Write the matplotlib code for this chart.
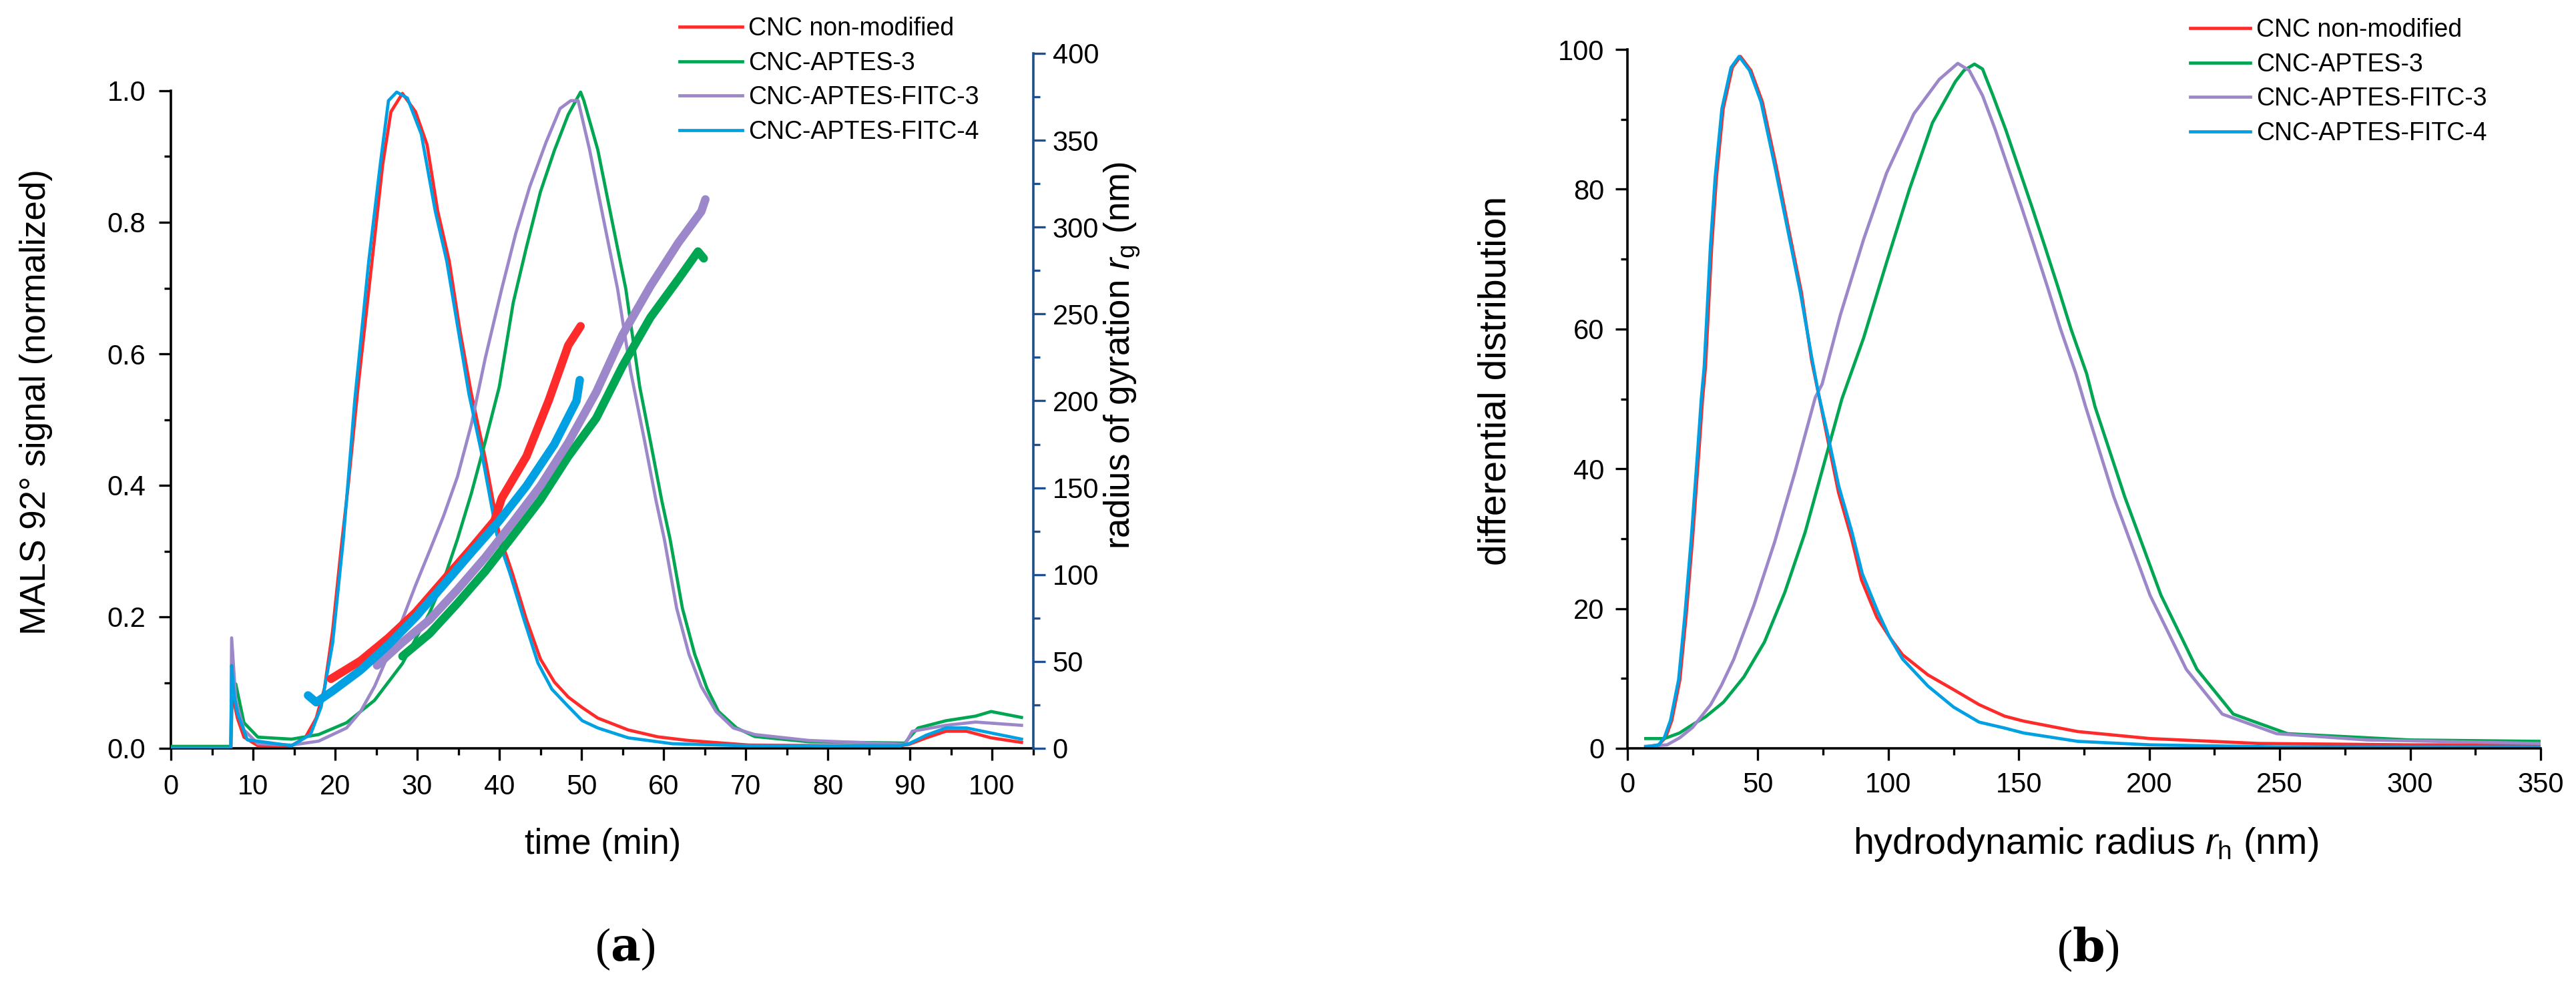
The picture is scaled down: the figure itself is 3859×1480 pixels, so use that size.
import numpy as np
import matplotlib.pyplot as plt
from matplotlib.ticker import MultipleLocator, FormatStrFormatter

plt.rcParams['font.family'] = ['Liberation Sans', 'DejaVu Sans']
plt.rcParams['mathtext.fontset'] = 'custom'
plt.rcParams['mathtext.rm'] = 'Liberation Sans'
plt.rcParams['mathtext.it'] = 'Liberation Sans:italic'

W, H = 3859, 1480

def fx(px):
    return px / W

def fy(py):
    return 1 - py / H

labels = ["CNC non-modified", "CNC-APTES-3", "CNC-APTES-FITC-3", "CNC-APTES-FITC-4"]
colors = ["#ff2a2a", "#00a651", "#9b87c9", "#00a0e3"]
axis_blue = "#1f4f8f"

# ---- (a) MALS 92 deg signal vs time ----
red_t = [0, 7.3, 7.4, 7.7, 8.1, 8.9, 10.6, 14.7, 16.4, 17.7, 18.7, 19.7, 20.7, 21.6, 22.8, 24.5, 25.8, 26.8,
         28.2, 29.8, 31.2, 32.5, 33.9, 35.2, 36.6, 38.3, 40.0, 41.6, 43.3, 45.0, 46.7, 48.4, 50.1, 52.0,
         55.7, 59.3, 63.0, 70.4, 80.0, 88.8, 89.9, 92.0, 94.4, 96.9, 99.9, 103.6]
red_s = [0, 0, 0.10, 0.07, 0.046, 0.017, 0.004, 0.004, 0.017, 0.046, 0.091, 0.179, 0.30, 0.40, 0.55, 0.741,
         0.888, 0.968, 0.996, 0.968, 0.918, 0.817, 0.741, 0.636, 0.539, 0.44, 0.325, 0.266, 0.196, 0.136,
         0.101, 0.078, 0.062, 0.046, 0.028, 0.0175, 0.012, 0.005, 0.004, 0.004, 0.006, 0.016, 0.026, 0.026,
         0.016, 0.009]

green_t = [0, 7.3, 7.5, 7.9, 8.9, 10.6, 14.7, 18.0, 21.4, 24.8, 28.2, 31.5, 33.2, 34.9, 36.6, 38.3, 40.0,
           41.7, 43.3, 45.0, 46.7, 48.4, 49.9, 50.3, 52.0, 53.7, 55.4, 57.1, 58.4, 59.8, 60.8, 62.3, 63.8,
           65.3, 66.7, 68.9, 71.1, 77.7, 89.4, 89.9, 91.0, 94.4, 98.0, 99.9, 103.6]
green_s = [0.003, 0.003, 0.09, 0.098, 0.039, 0.017, 0.014, 0.021, 0.039, 0.073, 0.129, 0.206, 0.255, 0.318,
           0.388, 0.467, 0.55, 0.678, 0.762, 0.846, 0.909, 0.964, 0.998, 0.985, 0.91, 0.804, 0.699, 0.55,
           0.467, 0.376, 0.318, 0.213, 0.143, 0.091, 0.056, 0.031, 0.018, 0.01, 0.008, 0.016, 0.031, 0.042,
           0.049, 0.056, 0.047]

purple_t = [0, 7.3, 7.4, 7.9, 8.9, 10.6, 14.7, 18.0, 21.4, 23.1, 24.8, 26.5, 28.2, 29.8, 31.5, 33.2, 34.9,
            36.6, 38.3, 40.3, 42.0, 43.7, 45.7, 47.4, 48.7, 49.6, 51.0, 52.7, 54.4, 56.0, 57.7, 59.1, 60.1,
            61.6, 63.1, 64.6, 66.4, 68.5, 71.1, 77.7, 89.4, 90.3, 94.4, 98.0, 103.6]
purple_s = [0, 0, 0.168, 0.073, 0.028, 0.007, 0.005, 0.011, 0.031, 0.056, 0.094, 0.143, 0.196, 0.248, 0.30,
            0.353, 0.413, 0.493, 0.594, 0.699, 0.783, 0.854, 0.922, 0.973, 0.985, 0.985, 0.91, 0.804, 0.699,
            0.573, 0.467, 0.376, 0.318, 0.213, 0.143, 0.094, 0.056, 0.031, 0.021, 0.012, 0.006, 0.026, 0.035,
            0.04, 0.035]

blue_t = [0, 7.3, 7.4, 7.7, 8.1, 9.3, 14.7, 17.0, 18.3, 19.7, 21.0, 22.4, 24.1, 25.5, 26.5, 27.5, 28.8,
          30.5, 32.2, 33.6, 35.0, 36.3, 38.0, 39.7, 41.3, 43.0, 44.7, 46.4, 48.3, 50.1, 52.0, 55.7, 61.1,
          70.0, 88.8, 89.9, 92.0, 94.4, 96.9, 103.6]
blue_s = [0, 0, 0.126, 0.08, 0.054, 0.013, 0.004, 0.021, 0.063, 0.16, 0.318, 0.53, 0.741, 0.888, 0.985,
          0.998, 0.989, 0.934, 0.817, 0.741, 0.636, 0.539, 0.44, 0.325, 0.266, 0.196, 0.13, 0.09, 0.065,
          0.042, 0.031, 0.016, 0.007, 0.004, 0.004, 0.007, 0.02, 0.031, 0.031, 0.014]

# radius of gyration (right axis, nm)
red_rg_t = [19.5, 23.1, 26.5, 29.8, 33.2, 36.6, 39.4, 40.3, 43.3, 46.0, 48.4, 49.9]
red_rg = [40, 50.4, 63.6, 78.2, 96.7, 115.2, 131, 144, 168, 200, 232, 243]
green_rg_t = [28.2, 31.5, 34.9, 38.3, 41.6, 45.0, 48.4, 51.8, 55.0, 58.4, 61.8, 64.2, 64.9]
green_rg = [53, 66, 83.5, 102, 122, 143, 168, 190, 220, 248, 270, 286, 282]
purple_rg_t = [25.1, 28.2, 31.5, 34.9, 38.3, 41.6, 45.0, 48.4, 51.8, 55.0, 58.4, 61.8, 64.6, 65.1]
purple_rg = [47.7, 61, 74, 91.4, 110, 129.8, 151, 176, 205, 238, 266, 291, 309, 316]
blue_rg_t = [16.7, 17.7, 19.7, 23.1, 26.5, 29.8, 33.2, 36.6, 40.0, 43.3, 46.7, 49.4, 49.8]
blue_rg = [30.5, 26.5, 33, 45, 59.6, 75.5, 94, 112.7, 131, 151, 175, 200, 212]

# ---- (b) DLS differential distribution ----
red_rh = [7, 12, 14.7, 17, 20.1, 22.5, 25, 27.5, 28.8, 29.9, 32.3, 34.1, 36.7, 40.2, 43.3, 47.3, 51.7, 57,
          61.4, 66.7, 70.6, 73.3, 77, 80.9, 85.8, 89.7, 95.6, 100.5, 105.4, 115.2, 125, 134.8, 144.6, 151.8,
          172.6, 200.3, 241.9, 300, 350]
red_dd = [0.2, 0.5, 1.6, 4, 9.8, 19, 30.2, 43, 50, 54.5, 71.8, 81.6, 91.5, 97.4, 99, 97, 92.5, 83.3, 75,
          65.2, 55.5, 50.6, 43.75, 36.6, 30.2, 24.1, 18.75, 15.9, 13.4, 10.5, 8.4, 6.25, 4.6, 3.9, 2.4, 1.4,
          0.7, 0.5, 0.5]
green_rh = [7, 14.2, 20, 25, 29.9, 36.8, 44.6, 52.5, 60.3, 68.1, 76, 82.2, 90.5, 99.3, 108.1, 116.9, 125.7,
            129, 133, 136.1, 140.1, 145, 150, 155, 160, 165, 170, 176, 179.2, 190.6, 204.5, 218.3, 232.2,
            253, 300, 350]
green_dd = [1.4, 1.4, 2.2, 3.4, 4.5, 6.6, 10.2, 15.2, 22.3, 30.9, 41.6, 50, 58.7, 69.5, 80, 89.5, 95.4, 97,
            97.9, 97.2, 93.4, 88.5, 83, 77.5, 71.8, 66, 60, 53.6, 48.9, 36, 21.9, 11.3, 4.9, 2.1, 1.2, 1.0]
purple_rh = [7, 15.2, 20, 25, 31.9, 36, 40.7, 48.5, 56.4, 64.2, 72, 74.6, 81.6, 90.5, 99.3, 109.8, 119.5,
             126.6, 131, 136.1, 141, 146, 151, 156, 161, 166, 171.9, 175.6, 186.4, 200.3, 214.2, 228,
             248.8, 283.5, 350]
purple_dd = [0.3, 0.5, 1.5, 3.0, 6.25, 9, 12.7, 20.5, 29.5, 39.5, 50.2, 52.1, 62, 72.8, 82.3, 90.8, 95.7,
             98.0, 97, 93.4, 88.5, 83, 77.5, 71.8, 66, 60, 53.6, 48.9, 36, 21.9, 11.3, 4.9, 2.1, 1.2, 0.7]
blue_rh = [7, 12, 14.2, 16.5, 19.6, 22, 24.5, 27, 28.3, 29.4, 31.8, 33.6, 36.2, 39.7, 42.8, 46.8, 51.2, 56.5,
           61, 66.3, 70.6, 73.3, 77, 81, 86, 90, 96, 100.5, 105.4, 115.2, 125, 134.8, 144.6, 151.8, 172.6,
           200.3, 250, 350]
blue_dd = [0.2, 0.5, 1.6, 4, 9.8, 19, 30.2, 43, 50, 54.5, 71.8, 81.6, 91.5, 97.4, 99, 97, 92.5, 83.3, 75,
           65.2, 56, 50.6, 44.5, 37.5, 31, 25, 19.5, 15.9, 12.8, 8.9, 5.9, 3.75, 2.9, 2.2, 1.0, 0.5, 0.2, 0.2]

mals = [(red_t, red_s), (green_t, green_s), (purple_t, purple_s), (blue_t, blue_s)]
rg = [(red_rg_t, red_rg), (green_rg_t, green_rg), (purple_rg_t, purple_rg), (blue_rg_t, blue_rg)]
dls = [(red_rh, red_dd), (green_rh, green_dd), (purple_rh, purple_dd), (blue_rh, blue_dd)]

TICK_FS = 30
LABEL_FS = 38
LEG_FS = 27
LW = 3.4

fig = plt.figure(figsize=(W / 100, H / 100), dpi=100)


def style_ticks(a, pad):
    a.tick_params(which='major', direction='out', length=13, width=2.4, labelsize=TICK_FS, pad=pad)
    a.tick_params(which='minor', direction='out', length=7, width=2.4)


# --- panel (a) ---
ax = fig.add_axes([fx(256), fy(1121), (1547.5 - 256) / W, (1121 - 80) / H])
for (t, s), c, lab in zip(mals, colors, labels):
    ax.plot(t, s, color=c, lw=LW, label=lab, zorder=3)
ax.set_xlim(0, 105)
ax.set_ylim(0, 1041 / 985)
ax.spines['top'].set_visible(False)
ax.spines['right'].set_visible(False)
ax.spines['left'].set_bounds(0, 1.0)
for sp in ['left', 'bottom']:
    ax.spines[sp].set_linewidth(2.6)
ax.xaxis.set_major_locator(MultipleLocator(10))
ax.xaxis.set_minor_locator(MultipleLocator(5))
ax.set_yticks([0, 0.2, 0.4, 0.6, 0.8, 1.0])
ax.set_yticks([0.1, 0.3, 0.5, 0.7, 0.9], minor=True)
ax.yaxis.set_major_formatter(FormatStrFormatter('%.1f'))
style_ticks(ax, 14)

ax2 = ax.twinx()
for (t, r), c in zip(rg, colors):
    ax2.plot(t, r, color=c, lw=9, solid_capstyle='round', zorder=2)
ax2.set_ylim(0, 400)
for sp in ['top', 'left', 'bottom']:
    ax2.spines[sp].set_visible(False)
ax2.spines['right'].set_color(axis_blue)
ax2.spines['right'].set_linewidth(2.6)
ax2.yaxis.set_major_locator(MultipleLocator(50))
ax2.yaxis.set_minor_locator(MultipleLocator(25))
style_ticks(ax2, 8)
ax2.tick_params(axis='y', which='both', colors=axis_blue, labelcolor='black')

ax.legend(loc='upper left', bbox_to_anchor=(fx(1018), fy(25)), bbox_transform=fig.transFigure,
          frameon=False, fontsize=LEG_FS, handlelength=2.5, handletextpad=0.25, labelspacing=0.42,
          borderpad=0, borderaxespad=0)

fig.text(fx(903), fy(1265), 'time (min)', ha='center', va='center', fontsize=LABEL_FS)
fig.text(fx(54), fy(602), 'MALS 92° signal (normalized)', ha='center', va='center', rotation=90,
         fontsize=LABEL_FS)
fig.text(fx(1681), fy(533), r'radius of gyration $r_\mathrm{g}$ (nm)', ha='center', va='center',
         rotation=90, fontsize=LABEL_FS)

# --- panel (b) ---
bx = fig.add_axes([fx(2438), fy(1121), 1368 / W, (1121 - 74) / H])
for (x, y), c, lab in zip(dls, colors, labels):
    bx.plot(x, y, color=c, lw=LW, label=lab)
bx.set_xlim(0, 350)
bx.set_ylim(0, 100)
bx.spines['top'].set_visible(False)
bx.spines['right'].set_visible(False)
for sp in ['left', 'bottom']:
    bx.spines[sp].set_linewidth(2.6)
bx.xaxis.set_major_locator(MultipleLocator(50))
bx.xaxis.set_minor_locator(MultipleLocator(25))
bx.yaxis.set_major_locator(MultipleLocator(20))
bx.yaxis.set_minor_locator(MultipleLocator(10))
style_ticks(bx, 12)

bx.legend(loc='upper left', bbox_to_anchor=(fx(3281), fy(27)), bbox_transform=fig.transFigure,
          frameon=False, fontsize=LEG_FS, handlelength=2.4, handletextpad=0.25, labelspacing=0.42,
          borderpad=0, borderaxespad=0)

fig.text(fx(3125), fy(1265), r'hydrodynamic radius $r_\mathrm{h}$ (nm)', ha='center', va='center',
         fontsize=40)
fig.text(fx(2240), fy(570), 'differential distribution', ha='center', va='center', rotation=90,
         fontsize=41)

# panel letters
for xpos, letter in [(936, 'a'), (3128, 'b')]:
    fig.text(fx(xpos), fy(1422), '(' + r'$\mathbf{' + letter + '}$' + ')', ha='center', va='center',
             fontsize=50, family='Liberation Serif', math_fontfamily='dejavuserif')

fig.savefig('out.png', dpi=100, facecolor='white')
